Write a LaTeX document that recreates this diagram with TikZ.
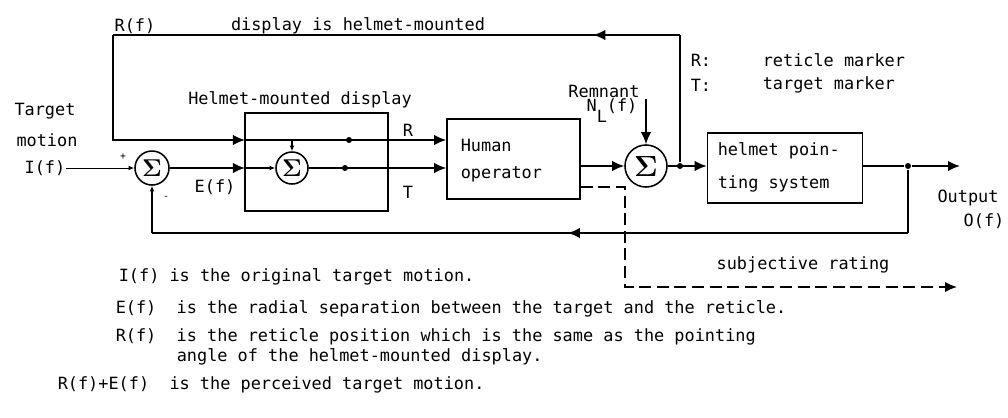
\documentclass[tikz,border=0pt]{standalone}
\usepackage[no-math]{fontspec}
\setmainfont{DejaVu Sans Mono}
\usepackage{amsmath}
\usetikzlibrary{arrows.meta,decorations.markings}
\tikzset{
  sumnode/.style={circle, draw, line width=1.1pt, inner sep=0pt, minimum size=#1},
  blk/.style={draw, line width=1.1pt, inner sep=0pt},
  jdot/.style={circle, fill, inner sep=0pt, minimum size=1.5mm},
  arr/.style={-{Latex[length=3mm,width=2.6mm]}},
  sarr/.style={-{Latex[length=1.4mm,width=1.2mm]}},
  arrowat/.style={postaction={decorate}, decoration={markings,
      mark=at position #1 with {\arrow{Latex[length=3mm,width=2.6mm]}}}},
  dashline/.style={dash pattern=on 3mm off 1.4mm},
  txt/.style={anchor=west, inner sep=0pt}
}
\newcommand{\sumsign}[1]{\fontsize{#1}{#1}\selectfont$\mathbf{\Sigma}$}
\begin{document}
\begin{tikzpicture}[x=0.025cm, y=-0.025cm, line width=1.1pt,
  every node/.append style={font=\fontsize{12}{14}\selectfont}]
\useasboundingbox (0,0) rectangle (1008,417);
\node[sumnode=0.85cm] (s1) at (152,168) {\sumsign{17}};
\node[sumnode=0.8cm] (s2) at (292,168) {\sumsign{16}};
\node[sumnode=1.05cm] (s3) at (646,166) {\sumsign{20}};
\node[blk, minimum width=3.575cm, minimum height=2.45cm] (hmd) at (316.5,162) {};
\node[blk, minimum width=3.325cm, minimum height=2cm] (hop) at (513.5,159) {};
\node[blk, minimum width=3.875cm, minimum height=1.75cm] (hps) at (785,168) {};
\coordinate (inp) at (66,168);
\coordinate (tin) at (245,168);
\coordinate (rin) at (245,140);
\coordinate (tl) at (113,35);
\coordinate (rl) at (113,140);
\coordinate (rtap) at (292,140);
\coordinate (tr) at (680,35);
\coordinate (rem) at (646,99);
\coordinate (br) at (908,233);
\coordinate (bl) at (152,233);
\coordinate (out) at (960,166);
\coordinate (d1) at (625,187);
\coordinate (d2) at (625,287);
\coordinate (d3) at (957,287);
\node[jdot] (jr) at (349,140) {};
\node[jdot] (jt) at (345,168) {};
\node[jdot] (js) at (680,166) {};
\node[jdot] (jo) at (908,166) {};
\draw[sarr, line width=0.7pt] (inp) -- (s1);
\draw[arr] (s1) -- (tin);
\draw[sarr] (tin) -- (s2);
\draw[arr] (s2) -- (hop.west |- s2);
\draw[arr] (tl) -- (rl) -- (rin);
\draw[arr] (rin) -- (hop.west |- rin);
\draw[sarr] (rtap) -- (s2);
\draw[arr] (hop.east |- s3) -- (s3);
\draw[arr] (rem) -- (s3);
\draw[arr] (s3) -- (s3.east -| hps.west);
\draw (js) -- (tr);
\draw[arrowat=0.153] (tr) -- (tl);
\draw (hps.east |- jo) -- (jo);
\draw[arr] (jo) -- (out);
\draw (jo) -- (br);
\draw[arrowat=0.45] (br) -- (bl);
\draw[sarr] (bl) -- (s1);
\draw[arr, dashline] (hop.east |- d1) -- (d1) -- (d2) -- (d3);
\node (lRf) at (135,26) {R(f)};
\node (lDisp) at (358,26) {display is helmet-mounted};
\node[txt] (kR) at (690,60) {R:};
\node[txt] (kRt) at (762,60) {reticle marker};
\node[txt] (kT) at (690,85) {T:};
\node[txt] (kTt) at (762,85) {target marker};
\node (lTarget) at (45,111) {Target};
\node (lMotion) at (47,140) {motion};
\node (lIf) at (45,168) {I(f)};
\node (lPlus) at (123,157) {\scriptsize +};
\node (lMinus) at (166,198) {\scriptsize -};
\node (lEf) at (215,187) {E(f)};
\node (lHmd) at (300,100) {Helmet-mounted display};
\node (lR) at (408,130) {R};
\node (lT) at (408,192) {T};
\node[txt] (lHum) at (460,145) {Human};
\node[txt] (lOp) at (460,174) {operator};
\node (lRem) at (604,91) {Remnant};
\node (lNl) at (612,111) {N\raisebox{-1.2ex}{L}(f)};
\node[txt] (lHps1) at (717,151) {helmet poin-};
\node[txt] (lHps2) at (717,184) {ting system};
\node (lOut) at (968,198) {Output};
\node (lOf) at (984,221) {O(f)};
\node (lSubj) at (803,265) {subjective rating};
\node[txt] (n1) at (118,277) {I(f) is the original target motion.};
\node[txt] (n2) at (115,309) {E(f)\ \ is the radial separation between the target and the reticle.};
\node[txt] (n3) at (115,337) {R(f)\ \ is the reticle position which is the same as the pointing};
\node[txt] (n4) at (176,357) {angle of the helmet-mounted display.};
\node[txt] (n5) at (57,385) {R(f)+E(f)\ \ is the perceived target motion.};
\end{tikzpicture}
\end{document}
